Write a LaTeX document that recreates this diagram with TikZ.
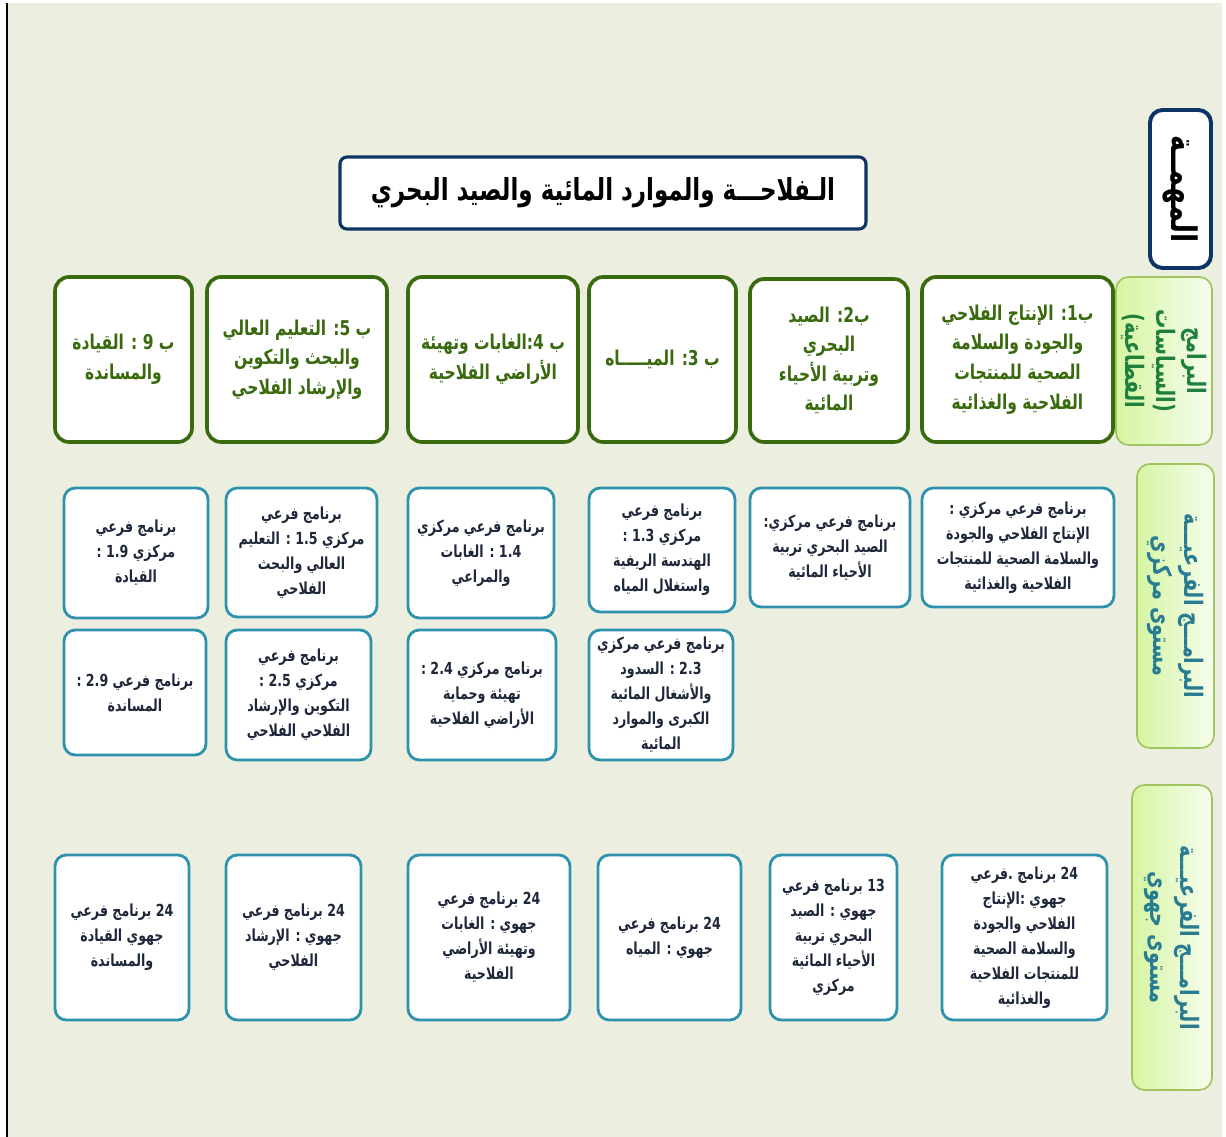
\documentclass[tikz,border=0pt]{standalone}
\usepackage{fontspec}
\newfontfamily\arabicfont[Script=Arabic, FakeStretch=0.76]{DejaVu Sans}
\TeXXeTstate=1
\usetikzlibrary{positioning}

\definecolor{pagebg}{RGB}{236,239,223}
\definecolor{sectorGreen}{RGB}{58,106,14}
\definecolor{subTeal}{RGB}{46,146,174}
\definecolor{missionNavy}{RGB}{12,52,100}
\definecolor{sideEdge}{RGB}{160,196,96}
\definecolor{sideLeft}{RGB}{214,245,162}
\definecolor{sideRight}{RGB}{246,253,238}
\definecolor{sideGreen}{RGB}{30,128,60}
\definecolor{sideTeal}{RGB}{40,124,146}
\definecolor{subText}{RGB}{30,40,58}

\newcommand{\rl}[1]{\beginR #1\endR}
\newcommand{\titleSiz}{\fontsize{21.5}{25}\selectfont}
\newcommand{\sectorSiz}{\fontsize{14.5}{21}\selectfont}
\newcommand{\subSiz}{\fontsize{11.8}{17.8}\selectfont}
\newcommand{\sideSiz}{\fontsize{18}{22}\selectfont}

% box from (x1,y1) to (x2,y2), in pixels of the page
\newcommand{\progBox}[7]{
    \pgfmathsetmacro{\boxW}{(#5-#3)*0.025}
    \pgfmathsetmacro{\boxH}{(#6-#4)*0.025}
    \node[#1, minimum width=\boxW cm, minimum height=\boxH cm] (#2)
        at ({(#3+#5)/2},{(#4+#6)/2}) {#7};
}
\newcommand{\sideBox}[7]{
    \pgfmathsetmacro{\boxW}{(#5-#3)*0.025}
    \pgfmathsetmacro{\boxH}{(#6-#4)*0.025}
    \node[sidebox, minimum width=\boxW cm, minimum height=\boxH cm] (#2)
        at ({(#3+#5)/2},{(#4+#6)/2}) {};
    \node[sidetext, text=#1] (#2 text) at (#2.center) {#7};
}

\tikzset{
    boxbase/.style={align=center, inner sep=1pt, fill=white, font=\arabicfont\bfseries},
    titlebox/.style={boxbase, draw=missionNavy, line width=2.2pt, rounded corners=5pt, font=\arabicfont\bfseries\titleSiz},
    missionbox/.style={boxbase, draw=missionNavy, line width=2.8pt, rounded corners=9pt},
    sectorbox/.style={boxbase, draw=sectorGreen, line width=2.6pt, rounded corners=10pt, text=sectorGreen, font=\arabicfont\bfseries\sectorSiz},
    subbox/.style={boxbase, draw=subTeal, line width=2pt, rounded corners=8pt, text=subText, font=\arabicfont\bfseries\subSiz},
    sidebox/.style={draw=sideEdge, line width=1.2pt, rounded corners=9pt, left color=sideLeft, right color=sideRight},
    sidetext/.style={rotate=-90, align=center, font=\arabicfont\bfseries\sideSiz},
}

\begin{document}
\begin{tikzpicture}[x=0.025cm, y=-0.025cm]
    \useasboundingbox (0,0) rectangle (1226,1137);
    \fill[pagebg] (8,3) rectangle (1222,1137);
    \draw[line width=1.2pt] (7,3) -- (7,1137);

    \progBox{titlebox}{title}{340}{157}{866}{229}{\rl{الـفلاحـــة والموارد المائية والصيد البحري}};

    \progBox{missionbox}{mission}{1150}{110}{1211}{268}{};
    \node[rotate=-90, font=\arabicfont\bfseries\fontsize{25}{28}\selectfont] (mission text)
        at (mission.center) {\rl{المهمــة}};

    \sideBox{sideGreen}{policy}{1116}{277}{1212}{445}{\rl{البرامج}\\\rl{(السياسات}\\\rl{القطاعية)}};
    \sideBox{sideTeal}{central}{1137}{464}{1214}{748}{\rl{البرامـــج الفرعيـــة}\\\rl{مستوى مركزي}};
    \sideBox{sideTeal}{regional}{1132}{785}{1212}{1090}{\rl{البرامـــج الفرعيـــة}\\\rl{مستوى جهوي}};

    % programmes
    \progBox{sectorbox}{b1}{922}{277}{1113}{442}{\rl{ب1: الإنتاج الفلاحي}\\\rl{والجودة والسلامة}\\\rl{الصحية للمنتجات}\\\rl{الفلاحية والغذائية}};
    \progBox{sectorbox}{b2}{750}{279}{908}{442}{\rl{ب2: الصيد}\\\rl{البحري}\\\rl{وتربية الأحياء}\\\rl{المائية}};
    \progBox{sectorbox}{b3}{589}{277}{736}{442}{\rl{ب 3: الميـــــاه}};
    \progBox{sectorbox}{b4}{408}{277}{578}{442}{\rl{ب 4:الغابات وتهيئة}\\\rl{الأراضي الفلاحية}};
    \progBox{sectorbox}{b5}{207}{277}{387}{442}{\rl{ب 5: التعليم العالي}\\\rl{والبحث والتكوين}\\\rl{والإرشاد الفلاحي}};
    \progBox{sectorbox}{b9}{55}{277}{192}{442}{\rl{ب 9 : القيادة}\\\rl{والمساندة}};

    % central sub-programmes
    \progBox{subbox}{c11}{922}{488}{1114}{607}{\rl{برنامج فرعي مركزي :}\\\rl{الإنتاج الفلاحي والجودة}\\\rl{والسلامة  الصحية للمنتجات}\\\rl{الفلاحية والغذائية}};
    \progBox{subbox}{c12}{750}{488}{910}{607}{\rl{برنامج فرعي مركزي:}\\\rl{الصيد البحري تربية}\\\rl{الأحياء المائية}};
    \progBox{subbox}{c13}{589}{488}{735}{612}{\rl{برنامج فرعي}\\\rl{مركزي 1.3 :}\\\rl{الهندسة الريفية}\\\rl{واستغلال المياه}};
    \progBox{subbox}{c14}{408}{488}{554}{618}{\rl{برنامج فرعي مركزي}\\\rl{1.4 : الغابات}\\\rl{والمراعي}};
    \progBox{subbox}{c15}{226}{488}{377}{617}{\rl{برنامج فرعي}\\\rl{مركزي 1.5 : التعليم}\\\rl{العالي والبحث}\\\rl{الفلاحي}};
    \progBox{subbox}{c19}{64}{488}{208}{618}{\rl{برنامج فرعي}\\\rl{مركزي 1.9  :}\\\rl{القيادة}};

    \progBox{subbox}{c23}{589}{630}{733}{760}{\rl{برنامج فرعي مركزي}\\\rl{2.3  : السدود}\\\rl{والأشغال المائية}\\\rl{الكبرى والموارد}\\\rl{المائية}};
    \progBox{subbox}{c24}{408}{630}{556}{760}{\rl{برنامج مركزي 2.4 :}\\\rl{تهيئة وحماية}\\\rl{الأراضي الفلاحية}};
    \progBox{subbox}{c25}{226}{630}{371}{760}{\rl{برنامج فرعي}\\\rl{مركزي 2.5 :}\\\rl{التكوين والإرشاد}\\\rl{الفلاحي الفلاحي}};
    \progBox{subbox}{c29}{64}{630}{206}{755}{\rl{برنامج فرعي 2.9 :}\\\rl{المساندة}};

    % regional sub-programmes
    \progBox{subbox}{r1}{942}{855}{1107}{1020}{\rl{24 برنامج .فرعي}\\\rl{جهوي :الإنتاج}\\\rl{الفلاحي والجودة}\\\rl{والسلامة  الصحية}\\\rl{للمنتجات الفلاحية}\\\rl{والغذائية}};
    \progBox{subbox}{r2}{770}{855}{897}{1020}{\rl{13 برنامج فرعي}\\\rl{جهوي : الصيد}\\\rl{البحري تربية}\\\rl{الأحياء المائية}\\\rl{مركزي}};
    \progBox{subbox}{r3}{598}{855}{741}{1020}{\rl{24 برنامج فرعي}\\\rl{جهوي : المياه}};
    \progBox{subbox}{r4}{408}{855}{570}{1020}{\rl{24 برنامج فرعي}\\\rl{جهوي : الغابات}\\\rl{وتهيئة الأراضي}\\\rl{الفلاحية}};
    \progBox{subbox}{r5}{226}{855}{361}{1020}{\rl{24 برنامج فرعي}\\\rl{جهوي : الإرشاد}\\\rl{الفلاحي}};
    \progBox{subbox}{r9}{55}{855}{189}{1020}{\rl{24 برنامج فرعي}\\\rl{جهوي القيادة}\\\rl{والمساندة}};
\end{tikzpicture}
\end{document}
